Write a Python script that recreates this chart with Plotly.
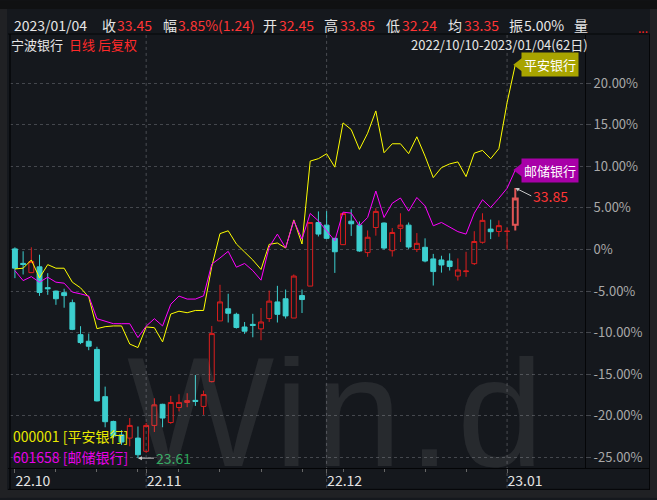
import plotly.graph_objects as go
import datetime as _dt

# ---------------- data ----------------
dates = ["2022-10-10","2022-10-11","2022-10-12","2022-10-13","2022-10-14","2022-10-17","2022-10-18",
         "2022-10-19","2022-10-20","2022-10-21","2022-10-24","2022-10-25","2022-10-26","2022-10-27",
         "2022-10-28","2022-10-31","2022-11-01","2022-11-02","2022-11-03","2022-11-04","2022-11-07",
         "2022-11-08","2022-11-09","2022-11-10","2022-11-11","2022-11-14","2022-11-15","2022-11-16",
         "2022-11-17","2022-11-18","2022-11-21","2022-11-22","2022-11-23","2022-11-24","2022-11-25",
         "2022-11-28","2022-11-29","2022-11-30","2022-12-01","2022-12-02","2022-12-05","2022-12-06",
         "2022-12-07","2022-12-08","2022-12-09","2022-12-12","2022-12-13","2022-12-14","2022-12-15",
         "2022-12-16","2022-12-19","2022-12-20","2022-12-21","2022-12-22","2022-12-23","2022-12-26",
         "2022-12-27","2022-12-28","2022-12-29","2022-12-30","2023-01-03","2023-01-04"]

opens = [31.54,30.99,30.64,30.86,30.07,29.94,29.88,29.50,28.29,28.04,27.73,25.94,25.00,24.49,24.37,24.37,
         23.87,24.85,25.65,24.96,25.53,25.72,25.80,25.57,26.51,28.81,29.27,29.06,28.58,28.68,28.51,28.90,
         29.53,29.65,28.92,29.77,30.13,32.54,32.44,31.94,31.70,32.59,32.44,31.40,32.35,32.52,31.47,32.32,
         32.44,31.52,31.60,31.16,31.12,31.08,30.51,30.68,30.98,31.79,32.29,32.20,32.20,32.45]
highs = [31.60,31.45,31.60,31.32,30.62,29.96,30.03,29.62,28.61,28.33,27.83,26.32,25.03,24.67,25.13,24.81,
         24.94,25.88,25.67,25.97,26.03,26.07,26.76,26.17,28.62,30.18,29.84,29.12,28.77,29.08,29.30,29.96,
         30.14,30.00,30.57,30.00,32.54,32.96,32.97,31.94,32.89,33.04,32.58,32.24,33.08,32.54,32.33,32.89,
         32.54,32.14,31.94,31.35,31.28,31.37,31.18,31.43,32.21,32.89,32.65,32.62,32.35,33.85]
lows = [30.43,30.57,30.64,29.76,29.80,29.42,29.31,28.46,27.93,27.70,25.76,24.78,24.37,24.11,24.06,23.61,
        23.81,24.60,24.78,24.91,25.38,25.54,25.59,25.25,26.48,28.81,28.75,28.52,28.32,28.19,28.08,28.77,
        28.75,28.90,28.92,29.11,30.13,32.01,31.91,30.63,31.69,32.03,31.43,31.24,32.04,31.51,31.25,31.80,
        31.54,31.42,31.03,30.15,30.64,30.72,30.34,30.48,30.93,31.74,31.91,32.00,31.51,32.24]
closes = [30.81,30.95,31.06,29.89,30.03,29.65,29.77,28.49,27.99,27.85,25.78,24.99,24.45,24.22,24.85,23.74,
          24.85,25.63,25.13,25.72,25.72,25.79,25.76,26.02,28.33,29.53,29.10,28.56,28.42,28.64,28.77,29.56,
          29.06,29.00,30.51,29.62,32.54,32.10,31.94,31.43,32.88,32.49,31.46,31.98,32.96,31.57,32.16,32.44,
          31.61,31.75,31.08,30.68,30.93,30.87,30.74,30.70,31.82,32.62,32.19,32.42,32.21,33.45]
base_price = 31.52  # reference level of the percentage axis

pingan_pct = [-2.35,-2.26,-1.27,-3.42,-1.83,-2.26,-2.26,-3.94,-4.62,-5.73,-9.53,-9.29,-9.20,-9.20,-11.38,-11.80,
              -9.32,-9.41,-11.12,-7.77,-7.43,-7.61,-7.34,-7.34,-2.05,1.90,2.24,0.65,-0.31,-1.27,-2.41,0.61,
              0.77,0.17,3.55,0.65,10.62,10.91,11.50,9.89,15.21,14.41,12.02,13.97,16.65,11.62,12.70,12.70,
              11.51,13.54,11.21,8.63,9.83,10.28,10.52,8.75,11.57,11.90,10.90,12.11,17.64,22.19]
psbc_pct = [-2.55,-3.75,-3.27,-3.94,-3.34,-3.94,-4.06,-5.13,-5.34,-5.61,-8.33,-8.65,-8.93,-8.93,-8.93,-10.60,
            -9.23,-8.33,-9.20,-6.59,-5.61,-5.97,-5.97,-5.58,-1.78,-1.03,-0.23,-2.14,-1.69,-2.55,-3.70,0.29,
            1.84,0.17,3.46,1.24,4.32,3.43,2.24,1.04,4.48,4.36,2.84,3.84,7.02,3.84,5.55,6.18,
            4.60,6.24,5.23,2.84,3.24,2.64,2.14,1.84,4.36,5.97,5.04,6.15,7.35,9.54]

avg_price = 33.35
y_ticks = [20, 15, 10, 5, 0, -5, -10, -15, -20, -25]
month_labels = ["22.10", "22.11", "22.12", "23.01"]

# ---------------- derived ----------------
n = len(dates)
xs = list(range(n))
pct = lambda p: (p / base_price - 1) * 100
o_p = [pct(v) for v in opens]
h_p = [pct(v) for v in highs]
l_p = [pct(v) for v in lows]
c_p = [pct(v) for v in closes]

month_idx = [i for i in range(n) if i == 0 or dates[i][:7] != dates[i - 1][:7]]
week_idx = []
for i in range(1, n):
    d0 = _dt.date.fromisoformat(dates[i - 1]); d1 = _dt.date.fromisoformat(dates[i])
    if d1.isocalendar()[1] != d0.isocalendar()[1] and i not in month_idx:
        week_idx.append(i)

W, H = 657, 500
L, R, T, B = 10, 72, 35, 30
PW, PH = W - L - R, H - T - B
def px(x): return (x - L) / PW
def py(y): return (H - B - y) / PH

RED = "#dc1e1e"
CYAN = "#3ccfcf"
YEL = "#ffff00"
MAG = "#ff00ff"
TXT = "#e6e6e6"
NUMRED = "#ff3535"
FONT = "Noto Sans CJK SC, Noto Sans, sans-serif"

fig = go.Figure()

fig.add_trace(go.Candlestick(
    x=xs[:-1], open=o_p[:-1], high=h_p[:-1], low=l_p[:-1], close=c_p[:-1],
    increasing=dict(line=dict(color=RED, width=1), fillcolor="rgba(0,0,0,0)"),
    decreasing=dict(line=dict(color=CYAN, width=1), fillcolor=CYAN),
    whiskerwidth=0, hoverinfo="skip", showlegend=False))
fig.add_trace(go.Candlestick(
    x=xs[-1:], open=o_p[-1:], high=h_p[-1:], low=l_p[-1:], close=c_p[-1:],
    increasing=dict(line=dict(color="#e05555", width=2), fillcolor="rgba(0,0,0,0)"),
    decreasing=dict(line=dict(color=CYAN, width=2), fillcolor=CYAN),
    whiskerwidth=0, hoverinfo="skip", showlegend=False))

fig.add_trace(go.Scatter(x=xs, y=pingan_pct, mode="lines", line=dict(color=YEL, width=1),
                         hoverinfo="skip", showlegend=False))
fig.add_trace(go.Scatter(x=xs, y=psbc_pct, mode="lines", line=dict(color=MAG, width=1),
                         hoverinfo="skip", showlegend=False))

fig.add_trace(go.Scatter(x=[xs[-1] + 0.55], y=[pingan_pct[-1]], mode="markers",
                         marker=dict(symbol="triangle-left", size=13, color="#a8a400"),
                         hoverinfo="skip", showlegend=False, cliponaxis=False))
fig.add_trace(go.Scatter(x=[xs[-1] + 0.55], y=[psbc_pct[-1]], mode="markers",
                         marker=dict(symbol="triangle-left", size=13, color="#a800a8"),
                         hoverinfo="skip", showlegend=False, cliponaxis=False))

ymin = -(H - B - 250.4) / 8.356
ymax = (250.4 - T) / 8.356

shapes = []
shapes.append(dict(type="rect", xref="paper", yref="paper", x0=px(0), x1=px(W), y0=py(0), y1=py(9),
                   fillcolor="#101112", line_width=0, layer="below"))
shapes.append(dict(type="rect", xref="paper", yref="paper", x0=px(0), x1=px(7), y0=py(H), y1=py(9),
                   fillcolor="#202124", line_width=0, layer="below"))
shapes.append(dict(type="rect", xref="paper", yref="paper", x0=px(650), x1=px(W), y0=py(H), y1=py(9),
                   fillcolor="#202124", line_width=0, layer="below"))
shapes.append(dict(type="rect", xref="paper", yref="paper", x0=px(0), x1=px(W), y0=py(H), y1=py(492),
                   fillcolor="#202124", line_width=0, layer="below"))
for (a, b, c, d, w) in [(8, 34, 650, 34, 1), (8, 470.5, 650, 470.5, 1), (10, 34, 10, 492, 1.5),
                        (649.5, 34, 649.5, 492, 1), (8, 491.5, 650, 491.5, 1)]:
    shapes.append(dict(type="line", xref="paper", yref="paper", x0=px(a), x1=px(c), y0=py(b), y1=py(d),
                       line=dict(color="#050608", width=w)))
for i in month_idx[1:]:
    shapes.append(dict(type="line", xref="x", yref="paper", x0=i, x1=i, y0=py(490), y1=1,
                       line=dict(color="#4a4d52", width=1, dash="dot"), layer="below"))
fig.update_layout(shapes=shapes)

ann = []
def txt(x, y, s, color=TXT, size=14, anchor="left"):
    ann.append(dict(xref="paper", yref="paper", x=px(x), y=py(y), xanchor=anchor, yanchor="middle",
                    text=s, showarrow=False, font=dict(family=FONT, size=size, color=color)))

chg = closes[-1] - closes[-2]
amp = (highs[-1] - lows[-1]) / closes[-2] * 100
header = [
    (12, dates[-1].replace("-", "/"), TXT), (100, "收", TXT), (115, f"{closes[-1]:.2f}", NUMRED),
    (161, "幅", TXT), (176, f"{chg / closes[-2] * 100:.2f}%({chg:.2f})", NUMRED),
    (261, "开", TXT), (277, f"{opens[-1]:.2f}", NUMRED),
    (322, "高", TXT), (338, f"{highs[-1]:.2f}", NUMRED),
    (384, "低", TXT), (400, f"{lows[-1]:.2f}", NUMRED),
    (446, "均", TXT), (462, f"{avg_price:.2f}", NUMRED),
    (507, "振", TXT), (522, f"{amp:.2f}%", TXT), (572, "量", TXT),
]
for x, s, c in header:
    txt(x, 25, s, c, 14)
txt(636, 27, "...", "#ff2020", 12)
txt(9, 45, "宁波银行", TXT, 13)
txt(67, 45, "日线 后复权", "#ff2a2a", 13)
txt(590, 45, f"{dates[0].replace('-', '/')}-{dates[-1].replace('-', '/')}({n}日)", TXT, 13, "right")

ann.append(dict(x=xs[-1] + 0.75, y=pingan_pct[-1], xanchor="left", yanchor="middle", text="平安银行",
                showarrow=False, bgcolor="#a8a400", borderpad=2, font=dict(family=FONT, size=13, color="#ffffff")))
ann.append(dict(x=xs[-1] + 0.75, y=psbc_pct[-1], xanchor="left", yanchor="middle", text="邮储银行",
                showarrow=False, bgcolor="#a800a8", borderpad=2, font=dict(family=FONT, size=13, color="#ffffff")))
ann.append(dict(x=xs[-1], y=h_p[-1], ax=16, ay=8, xanchor="left", yanchor="middle",
                text=f"{max(highs):.2f}", showarrow=True, arrowhead=2, arrowsize=0.8, arrowwidth=1,
                arrowcolor="#c8c8c8", font=dict(family=FONT, size=14, color=NUMRED)))
lo_i = lows.index(min(lows))
ann.append(dict(x=lo_i, y=l_p[lo_i], ax=16, ay=0, xanchor="left", yanchor="middle",
                text=f"{min(lows):.2f}", showarrow=True, arrowhead=2, arrowsize=0.8, arrowwidth=1,
                arrowcolor="#c8c8c8", font=dict(family=FONT, size=14, color="#2aa55a")))
txt(11, 438, "000001 [平安银行]", "#e8e800", 14)
txt(11, 459, "601658 [邮储银行]", "#e800e8", 14)
# watermark (box trimmed to the glyphs)
ann.append(dict(xref="paper", yref="paper", x=px(338), y=py(414), xanchor="center", yanchor="middle",
                height=112, valign="middle",
                text="W<span style='letter-spacing:6px'>in.d</span>", showarrow=False,
                font=dict(family="Liberation Sans, Arial", size=156, color="rgba(255,255,255,0.08)")))
fig.update_layout(annotations=ann)

fig.update_layout(
    width=W, height=H, margin=dict(l=L, r=R, t=T, b=B),
    paper_bgcolor="#15181d", plot_bgcolor="#15181d",
    showlegend=False, boxgap=0.15,
    xaxis=dict(range=[-0.6, 69.5], tickvals=month_idx,
               ticktext=month_labels, ticklabelposition="outside right",
               showgrid=False, zeroline=False, rangeslider=dict(visible=False),
               ticks="outside", ticklen=4, tickcolor="#666",
               minor=dict(tickvals=week_idx, ticks="outside", ticklen=3, tickcolor="#666"),
               tickfont=dict(family=FONT, size=14, color="#e4e4e4"), fixedrange=True),
    yaxis=dict(side="right", range=[ymin, ymax], tickvals=y_ticks,
               ticktext=[("0%" if v == 0 else f"{v:.2f}%") for v in y_ticks],
               showgrid=True, gridcolor="#44474d", griddash="dot", gridwidth=1, zeroline=False,
               showline=True, linecolor="#050608", linewidth=1,
               ticks="outside", ticklen=5, tickcolor="#44474d",
               tickfont=dict(family=FONT, size=13, color="#a9a9a9"), fixedrange=True),
)

fig.write_html("out.html", config={"displayModeBar": False},
               post_script="document.body.style.margin='0px';document.body.style.overflow='hidden';")
